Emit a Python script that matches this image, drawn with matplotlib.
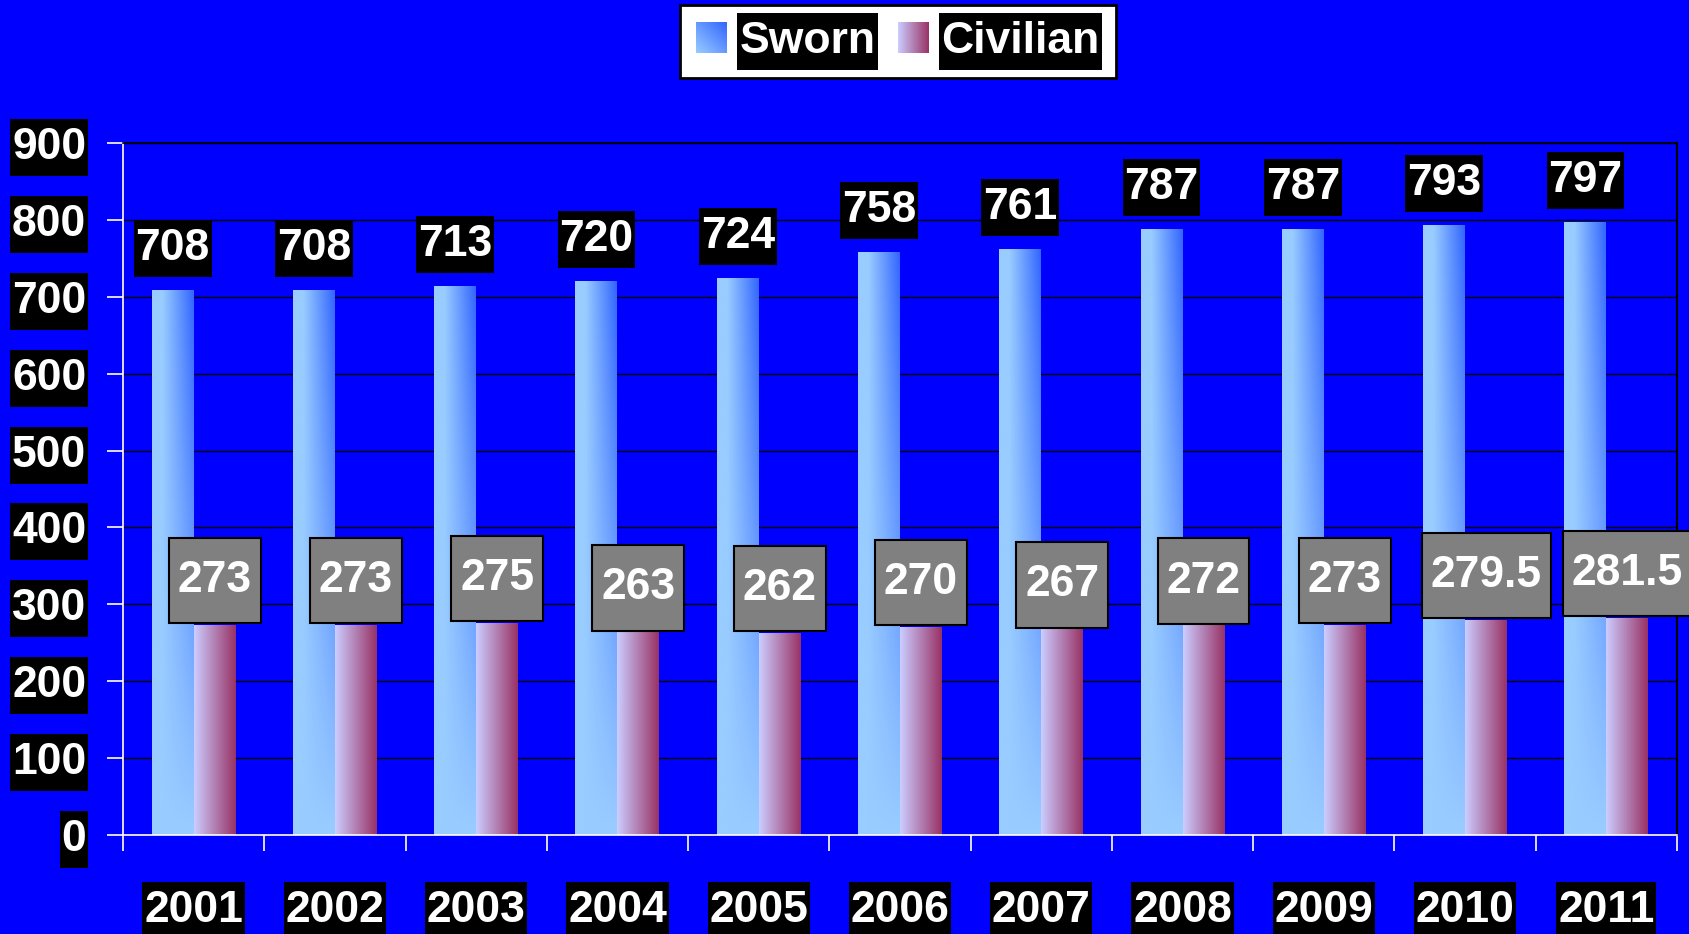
import numpy as np
import matplotlib
matplotlib.use('Agg')
import matplotlib.pyplot as plt
from matplotlib.legend_handler import HandlerBase
from matplotlib.image import BboxImage
from matplotlib.transforms import Bbox, TransformedBbox
from matplotlib.patches import Patch
from matplotlib.colors import to_rgb

# ---------------- data ----------------
years = ['2001', '2002', '2003', '2004', '2005', '2006', '2007', '2008', '2009', '2010', '2011']
sworn = [708, 708, 713, 720, 724, 758, 761, 787, 787, 793, 797]
civilian = [273, 273, 275, 263, 262, 270, 267, 272, 273, 279.5, 281.5]
y_ticks = [0, 100, 200, 300, 400, 500, 600, 700, 800, 900]
series_names = ['Sworn', 'Civilian']

plt.rcParams['font.family'] = ['Liberation Sans', 'DejaVu Sans']
plt.rcParams['font.weight'] = 'bold'

FS = 32
BLUE = '#0000FF'

def sworn_grad(n=64):
    xs = np.linspace(0, 1, n)
    ys = np.linspace(0, 1, n)
    X, Y = np.meshgrid(xs, ys)
    tx = np.clip((X - 0.25) / 0.75, 0, 1)
    t = (tx * Y)[..., None]
    light = np.array(to_rgb('#99CCFF'))
    dark = np.array(to_rgb('#3366FF'))
    return light * (1 - t) + dark * t

def sworn_legend_grad(n=64):
    xs = np.linspace(0, 1, n)
    ys = np.linspace(1, 0, n)  # row 0 = top
    X, Y = np.meshgrid(xs, ys)
    t = np.clip((X + Y) / 2, 0, 1)[..., None]
    light = np.array(to_rgb('#99CCFF'))
    dark = np.array(to_rgb('#3366FF'))
    return light * (1 - t) + dark * t

def civ_grad(n=64):
    xs = np.linspace(0, 1, n)
    X, Y = np.meshgrid(xs, np.ones(n))
    t = X[..., None]
    light = np.array(to_rgb('#CCCCFF'))
    dark = np.array(to_rgb('#993366'))
    return light * (1 - t) + dark * t

fig = plt.figure(figsize=(16.9, 9.34), dpi=100, facecolor=BLUE)
ax = fig.add_axes([123 / 1690, 1 - 835 / 934, (1677 - 123) / 1690, (835 - 143) / 934])
ax.set_facecolor(BLUE)

x = np.arange(len(years))
w = 0.297
b1 = ax.bar(x - w / 2, sworn, w, color='none', edgecolor='none', zorder=2)
b2 = ax.bar(x + w / 2, civilian, w, color='none', edgecolor='none', zorder=2)

img_s = sworn_grad()
img_c = civ_grad()
for rect in b1:
    x0, y0, ww, hh = rect.get_x(), rect.get_y(), rect.get_width(), rect.get_height()
    ax.imshow(img_s, extent=[x0, x0 + ww, y0, y0 + hh], origin='lower',
              aspect='auto', interpolation='bilinear', zorder=2)
for rect in b2:
    x0, y0, ww, hh = rect.get_x(), rect.get_y(), rect.get_width(), rect.get_height()
    ax.imshow(img_c, extent=[x0, x0 + ww, y0, y0 + hh], origin='lower',
              aspect='auto', interpolation='bilinear', zorder=2)

ax.set_xlim(-0.5, len(years) - 0.5)
ax.set_ylim(0, 900)

# value labels
for rect, v in zip(b1, sworn):
    ax.annotate(f'{v:g}', (rect.get_x() + rect.get_width() / 2, v), xytext=(0, 22),
                textcoords='offset points', ha='center', va='baseline',
                fontsize=FS, fontweight='bold', color='white', zorder=5,
                bbox=dict(boxstyle='square,pad=0.04', fc='black', ec='none',
                          mutation_aspect=4.5))
for rect, v in zip(b2, civilian):
    ax.annotate(f'{v:g}', (rect.get_x() + rect.get_width() / 2, v), xytext=(0, 24),
                textcoords='offset points', ha='center', va='baseline',
                fontsize=FS, fontweight='bold', color='white', zorder=6,
                bbox=dict(boxstyle='square,pad=0.2', fc='#808080', ec='black', lw=1.5,
                          mutation_aspect=2.5))

# axes styling
ax.set_yticks(y_ticks)
ax.set_yticklabels([str(t) for t in y_ticks])
ax.tick_params(axis='y', colors='white', direction='out', length=11.5, width=1.2,
               pad=15, labelsize=FS)
ax.set_xticks(np.arange(-0.5, len(years), 1))
ax.set_xticklabels([])
ax.set_xticks(x, minor=True)
ax.set_xticklabels(years, minor=True)
ax.tick_params(axis='x', which='major', colors='white', direction='out', length=11.5, width=1.2)
ax.tick_params(axis='x', which='minor', length=0, pad=39.6, labelsize=FS, labelcolor='white')

for t in ax.get_yticklabels():
    t.set_fontweight('bold')
    t.set_bbox(dict(boxstyle='square,pad=0.04', fc='black', ec='none', mutation_aspect=4.5))
for t in ax.get_xticklabels(minor=True):
    t.set_fontweight('bold')
    t.set_bbox(dict(boxstyle='square,pad=0.04', fc='black', ec='none', mutation_aspect=4.5))

ax.yaxis.grid(True, color='black', lw=1.0)
ax.set_axisbelow(True)
ax.spines['left'].set_color('white')
ax.spines['left'].set_linewidth(1.2)
ax.spines['bottom'].set_color('white')
ax.spines['bottom'].set_linewidth(1.2)
ax.spines['bottom'].set_zorder(3)
ax.spines['top'].set_color('black')
ax.spines['top'].set_linewidth(1.2)
ax.spines['right'].set_color('black')
ax.spines['right'].set_linewidth(1.5)

# legend with gradient handles
class GradHandler(HandlerBase):
    def __init__(self, img):
        super().__init__()
        self.img = img

    def create_artists(self, legend, orig_handle, xdescent, ydescent, width, height,
                       fontsize, trans):
        bb = TransformedBbox(Bbox.from_bounds(-xdescent, -ydescent, width, height), trans)
        im = BboxImage(bb, interpolation='bilinear', origin='upper')
        im.set_data(self.img)
        return [im]

h1 = Patch()
h2 = Patch()
leg = fig.legend([h1, h2], series_names,
                 handler_map={h1: GradHandler(sworn_legend_grad()), h2: GradHandler(civ_grad())},
                 loc='upper center', bbox_to_anchor=(898 / 1690, 1 - 5 / 934),
                 bbox_transform=fig.transFigure, ncol=2, frameon=True, fancybox=False,
                 framealpha=1, prop={'size': FS, 'weight': 'bold'}, labelcolor='white',
                 handlelength=0.68, handleheight=0.68, handletextpad=0.3,
                 columnspacing=0.5, borderpad=0.36, borderaxespad=0)
leg.get_frame().set_facecolor('white')
leg.get_frame().set_edgecolor('black')
leg.get_frame().set_linewidth(2)
for t in leg.get_texts():
    t.set_bbox(dict(boxstyle='square,pad=0.06', fc='black', ec='none', mutation_aspect=3))

fig.savefig('out.png', dpi=100, facecolor=BLUE)
